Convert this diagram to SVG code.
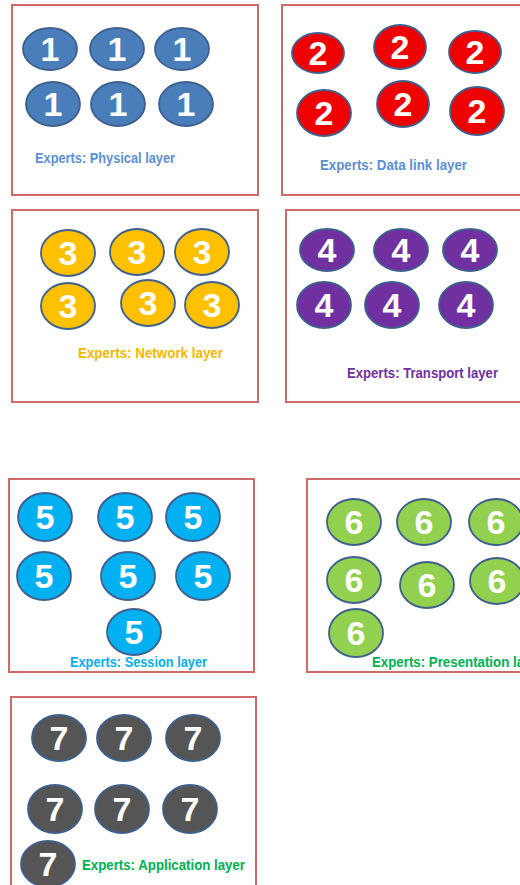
<svg xmlns="http://www.w3.org/2000/svg" width="520" height="885" viewBox="0 0 520 885">
  <style>
    .panel { fill: #ffffff; stroke: #cd6a6a; stroke-width: 2; }
    .exp { stroke: #3f5f8c; stroke-width: 1.8; }
    .num { font-family: "Liberation Sans", Arial, sans-serif; font-weight: bold; font-size: 34px; fill: #ffffff; text-anchor: middle; }
    .cap { font-family: "Liberation Sans", Arial, sans-serif; font-weight: bold; font-size: 14px; }
    .l1 { fill: #4a7ebb; } .l2 { fill: #ee0000; } .l3 { fill: #ffc000; } .l4 { fill: #7030a0; }
    .l5 { fill: #00b0f0; } .l6 { fill: #92d050; } .l7 { fill: #555555; }
  </style>
  <rect width="520" height="885" fill="#ffffff"/>

  <!-- layer 1: physical -->
  <g id="physical">
    <rect class="panel" x="12" y="5" width="246" height="190"/>
    <g class="l1">
      <ellipse class="exp" cx="50" cy="49" rx="27" ry="21"/>
      <ellipse class="exp" cx="117" cy="49" rx="27" ry="21"/>
      <ellipse class="exp" cx="182" cy="49" rx="27" ry="21"/>
      <ellipse class="exp" cx="53" cy="104" rx="27" ry="22"/>
      <ellipse class="exp" cx="118" cy="104" rx="27" ry="22"/>
      <ellipse class="exp" cx="186" cy="104" rx="27" ry="22"/>
    </g>
    <text class="num" x="50" y="61">1</text>
    <text class="num" x="117" y="61">1</text>
    <text class="num" x="182" y="61">1</text>
    <text class="num" x="53" y="116">1</text>
    <text class="num" x="118" y="116">1</text>
    <text class="num" x="186" y="116">1</text>
    <text class="cap" x="35" y="163" fill="#5b8fd6" textLength="140" lengthAdjust="spacingAndGlyphs">Experts: Physical layer</text>
  </g>

  <!-- layer 2: data link -->
  <g id="datalink">
    <rect class="panel" x="282" y="5" width="244" height="190"/>
    <g class="l2">
      <ellipse class="exp" cx="318" cy="53" rx="26" ry="20"/>
      <ellipse class="exp" cx="400" cy="47" rx="26" ry="22"/>
      <ellipse class="exp" cx="475" cy="52" rx="26" ry="21"/>
      <ellipse class="exp" cx="324" cy="113" rx="27" ry="23"/>
      <ellipse class="exp" cx="403" cy="104" rx="26" ry="23"/>
      <ellipse class="exp" cx="477" cy="111" rx="27" ry="24"/>
    </g>
    <text class="num" x="318" y="65">2</text>
    <text class="num" x="400" y="59">2</text>
    <text class="num" x="475" y="64">2</text>
    <text class="num" x="324" y="125">2</text>
    <text class="num" x="403" y="116">2</text>
    <text class="num" x="477" y="123">2</text>
    <text class="cap" x="320" y="170" fill="#5b8fd6" textLength="147" lengthAdjust="spacingAndGlyphs">Experts: Data link layer</text>
  </g>

  <!-- layer 3: network -->
  <g id="network">
    <rect class="panel" x="12" y="210" width="246" height="192"/>
    <g class="l3">
      <ellipse class="exp" cx="68" cy="253" rx="27" ry="23"/>
      <ellipse class="exp" cx="137" cy="252" rx="27" ry="23"/>
      <ellipse class="exp" cx="202" cy="252" rx="27" ry="23"/>
      <ellipse class="exp" cx="68" cy="306" rx="27" ry="23"/>
      <ellipse class="exp" cx="148" cy="303" rx="27" ry="23"/>
      <ellipse class="exp" cx="212" cy="305" rx="27" ry="23"/>
    </g>
    <text class="num" x="68" y="265">3</text>
    <text class="num" x="137" y="264">3</text>
    <text class="num" x="202" y="264">3</text>
    <text class="num" x="68" y="318">3</text>
    <text class="num" x="148" y="315">3</text>
    <text class="num" x="212" y="317">3</text>
    <text class="cap" x="78" y="358" fill="#f5b800" textLength="145" lengthAdjust="spacingAndGlyphs">Experts: Network layer</text>
  </g>

  <!-- layer 4: transport -->
  <g id="transport">
    <rect class="panel" x="286" y="210" width="240" height="192"/>
    <g class="l4">
      <ellipse class="exp" cx="327" cy="250" rx="27" ry="21"/>
      <ellipse class="exp" cx="401" cy="250" rx="27" ry="21"/>
      <ellipse class="exp" cx="470" cy="250" rx="27" ry="21"/>
      <ellipse class="exp" cx="324" cy="305" rx="27" ry="23"/>
      <ellipse class="exp" cx="392" cy="305" rx="27" ry="23"/>
      <ellipse class="exp" cx="466" cy="305" rx="27" ry="23"/>
    </g>
    <text class="num" x="327" y="262">4</text>
    <text class="num" x="401" y="262">4</text>
    <text class="num" x="470" y="262">4</text>
    <text class="num" x="324" y="317">4</text>
    <text class="num" x="392" y="317">4</text>
    <text class="num" x="466" y="317">4</text>
    <text class="cap" x="347" y="378" fill="#7030a0" textLength="151" lengthAdjust="spacingAndGlyphs">Experts: Transport layer</text>
  </g>

  <!-- layer 5: session -->
  <g id="session">
    <rect class="panel" x="9" y="479" width="245" height="193"/>
    <g class="l5">
      <ellipse class="exp" cx="45" cy="517" rx="27" ry="24"/>
      <ellipse class="exp" cx="125" cy="517" rx="27" ry="24"/>
      <ellipse class="exp" cx="193" cy="517" rx="27" ry="24"/>
      <ellipse class="exp" cx="44" cy="576" rx="27" ry="24"/>
      <ellipse class="exp" cx="128" cy="576" rx="27" ry="24"/>
      <ellipse class="exp" cx="203" cy="576" rx="27" ry="24"/>
      <ellipse class="exp" cx="134" cy="632" rx="27" ry="23"/>
    </g>
    <text class="num" x="45" y="529">5</text>
    <text class="num" x="125" y="529">5</text>
    <text class="num" x="193" y="529">5</text>
    <text class="num" x="44" y="588">5</text>
    <text class="num" x="128" y="588">5</text>
    <text class="num" x="203" y="588">5</text>
    <text class="num" x="134" y="644">5</text>
    <text class="cap" x="70" y="667" fill="#00b0f0" textLength="137" lengthAdjust="spacingAndGlyphs">Experts: Session layer</text>
  </g>

  <!-- layer 6: presentation -->
  <g id="presentation">
    <rect class="panel" x="307" y="479" width="220" height="193"/>
    <g class="l6">
      <ellipse class="exp" cx="354" cy="522" rx="27" ry="23"/>
      <ellipse class="exp" cx="424" cy="522" rx="27" ry="23"/>
      <ellipse class="exp" cx="496" cy="522" rx="27" ry="23"/>
      <ellipse class="exp" cx="354" cy="580" rx="27" ry="23"/>
      <ellipse class="exp" cx="427" cy="585" rx="27" ry="23"/>
      <ellipse class="exp" cx="497" cy="581" rx="27" ry="23"/>
      <ellipse class="exp" cx="356" cy="633" rx="27" ry="24"/>
    </g>
    <text class="num" x="354" y="534">6</text>
    <text class="num" x="424" y="534">6</text>
    <text class="num" x="496" y="534">6</text>
    <text class="num" x="354" y="592">6</text>
    <text class="num" x="427" y="597">6</text>
    <text class="num" x="497" y="593">6</text>
    <text class="num" x="356" y="645">6</text>
    <text class="cap" x="372" y="667" fill="#00b050" textLength="172" lengthAdjust="spacingAndGlyphs">Experts: Presentation layer</text>
  </g>

  <!-- layer 7: application -->
  <g id="application">
    <rect class="panel" x="11" y="697" width="245" height="200"/>
    <g class="l7">
      <ellipse class="exp" cx="59" cy="738" rx="27" ry="23"/>
      <ellipse class="exp" cx="124" cy="738" rx="27" ry="23"/>
      <ellipse class="exp" cx="193" cy="738" rx="27" ry="23"/>
      <ellipse class="exp" cx="55" cy="809" rx="27" ry="24"/>
      <ellipse class="exp" cx="122" cy="809" rx="27" ry="24"/>
      <ellipse class="exp" cx="190" cy="809" rx="27" ry="24"/>
      <ellipse class="exp" cx="48" cy="864" rx="27" ry="23"/>
    </g>
    <text class="num" x="59" y="750">7</text>
    <text class="num" x="124" y="750">7</text>
    <text class="num" x="193" y="750">7</text>
    <text class="num" x="55" y="821">7</text>
    <text class="num" x="122" y="821">7</text>
    <text class="num" x="190" y="821">7</text>
    <text class="num" x="48" y="876">7</text>
    <text class="cap" x="82" y="870" fill="#00b050" textLength="163" lengthAdjust="spacingAndGlyphs">Experts: Application layer</text>
  </g>
</svg>
